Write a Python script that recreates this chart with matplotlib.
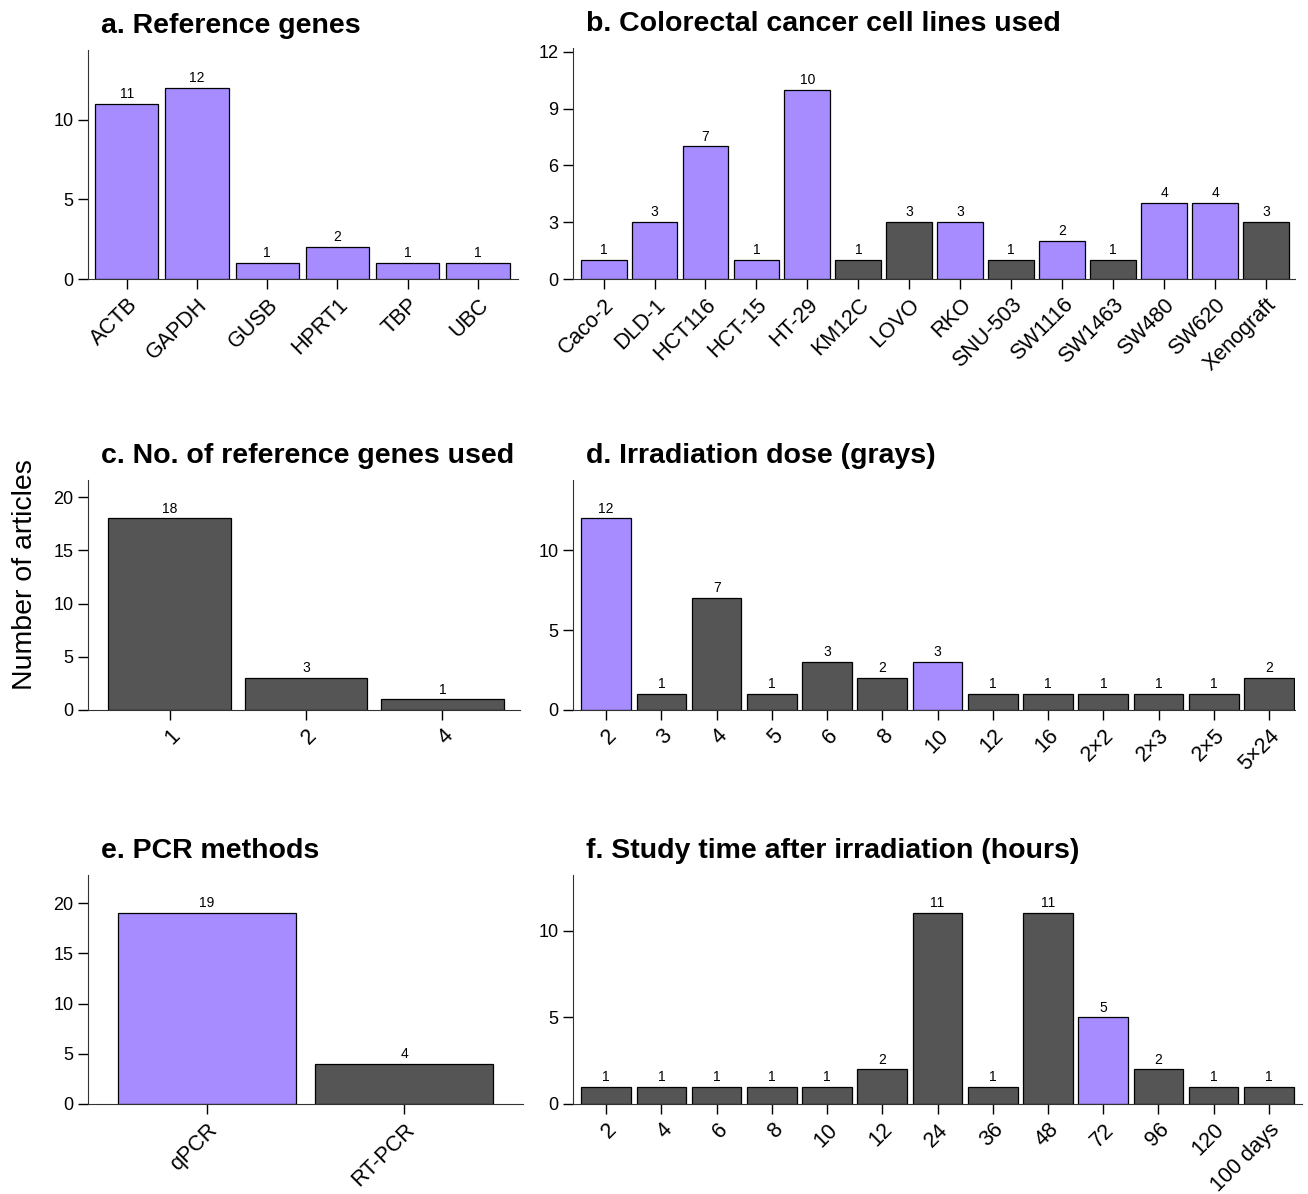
import matplotlib.pyplot as plt
import numpy as np

plt.rcParams['font.family'] = ['Liberation Sans', 'DejaVu Sans']

PURPLE = '#a68cff'
GREY = '#555555'

# a. Reference genes
genes = ['ACTB', 'GAPDH', 'GUSB', 'HPRT1', 'TBP', 'UBC']
genes_n = [11, 12, 1, 2, 1, 1]
genes_hi = [1, 1, 1, 1, 1, 1]

# b. Cell lines
cells = ['Caco-2', 'DLD-1', 'HCT116', 'HCT-15', 'HT-29', 'KM12C', 'LOVO',
         'RKO', 'SNU-503', 'SW1116', 'SW1463', 'SW480', 'SW620', 'Xenograft']
cells_n = [1, 3, 7, 1, 10, 1, 3, 3, 1, 2, 1, 4, 4, 3]
cells_hi = [1, 1, 1, 1, 1, 0, 0, 1, 0, 1, 0, 1, 1, 0]

# c. No. of reference genes
ngenes = ['1', '2', '4']
ngenes_n = [18, 3, 1]
ngenes_hi = [0, 0, 0]

# d. Irradiation dose
dose = ['2', '3', '4', '5', '6', '8', '10', '12', '16', '2×2', '2×3', '2×5', '5×24']
dose_n = [12, 1, 7, 1, 3, 2, 3, 1, 1, 1, 1, 1, 2]
dose_hi = [1, 0, 0, 0, 0, 0, 1, 0, 0, 0, 0, 0, 0]

# e. PCR methods
pcr = ['qPCR', 'RT-PCR']
pcr_n = [19, 4]
pcr_hi = [1, 0]

# f. Study time
times = ['2', '4', '6', '8', '10', '12', '24', '36', '48', '72', '96', '120', '100 days']
times_n = [1, 1, 1, 1, 1, 2, 11, 1, 11, 5, 2, 1, 1]
times_hi = [0, 0, 0, 0, 0, 0, 0, 0, 0, 1, 0, 0, 0]

W, H = 1308, 1194
fig = plt.figure(figsize=(W / 100, H / 100), dpi=100)


def px_axes(l, t, r, b):
    ax = fig.add_axes([l / W, 1 - b / H, (r - l) / W, (b - t) / H])
    ax._wpx = r - l
    return ax


def panel(ax, title, labels, vals, hi, ymax, yticks, xlim):
    x = np.arange(len(labels))
    cols = [PURPLE if h else GREY for h in hi]
    ax.bar(x, vals, width=0.9, color=cols, edgecolor='black', linewidth=0.9)
    for xi, v in zip(x, vals):
        ax.text(xi, v + ymax * 0.012, str(v), ha='center', va='bottom', fontsize=10)
    ax.set_xlim(*xlim)
    ax.set_ylim(0, ymax)
    ax.set_yticks(yticks)
    ax.set_xticks(x)
    ax.set_xticklabels(labels, rotation=45, ha='right', rotation_mode='anchor', fontsize=15.5)
    ax.tick_params(axis='y', labelsize=13, length=7, width=1, direction='out')
    ax.tick_params(axis='x', length=7, width=1, direction='out', pad=4)
    ax.spines['top'].set_visible(False)
    ax.spines['right'].set_visible(False)
    ax.spines['left'].set_color('#333333')
    ax.spines['bottom'].set_color('#333333')
    ax.set_title(title, loc='left', fontsize=20.5, fontweight='bold', x=13 / ax._wpx, pad=12)


ax_a = px_axes(88, 50, 518, 279)
panel(ax_a, 'a. Reference genes', genes, genes_n, genes_hi, 14.4, [0, 5, 10], (-0.55, 5.57))

ax_b = px_axes(573, 48, 1295, 279)
panel(ax_b, 'b. Colorectal cancer cell lines used', cells, cells_n, cells_hi, 12.2,
      [0, 3, 6, 9, 12], (-0.6, 13.57))

ax_c = px_axes(88, 480, 520, 710)
panel(ax_c, 'c. No. of reference genes used', ngenes, ngenes_n, ngenes_hi, 21.6,
      [0, 5, 10, 15, 20], (-0.6, 2.57))

ax_d = px_axes(573, 480, 1295, 710)
panel(ax_d, 'd. Irradiation dose (grays)', dose, dose_n, dose_hi, 14.4, [0, 5, 10], (-0.6, 12.47))

ax_e = px_axes(88, 875, 523, 1104)
panel(ax_e, 'e. PCR methods', pcr, pcr_n, pcr_hi, 22.8, [0, 5, 10, 15, 20], (-0.6, 1.6))

ax_f = px_axes(573, 875, 1302, 1104)
panel(ax_f, 'f. Study time after irradiation (hours)', times, times_n, times_hi, 13.2,
      [0, 5, 10], (-0.6, 12.6))

fig.text(25 / W, 1 - 575 / H, 'Number of articles', rotation=90, ha='center', va='center',
         fontsize=20.5)

fig.savefig('out.png', dpi=100)
